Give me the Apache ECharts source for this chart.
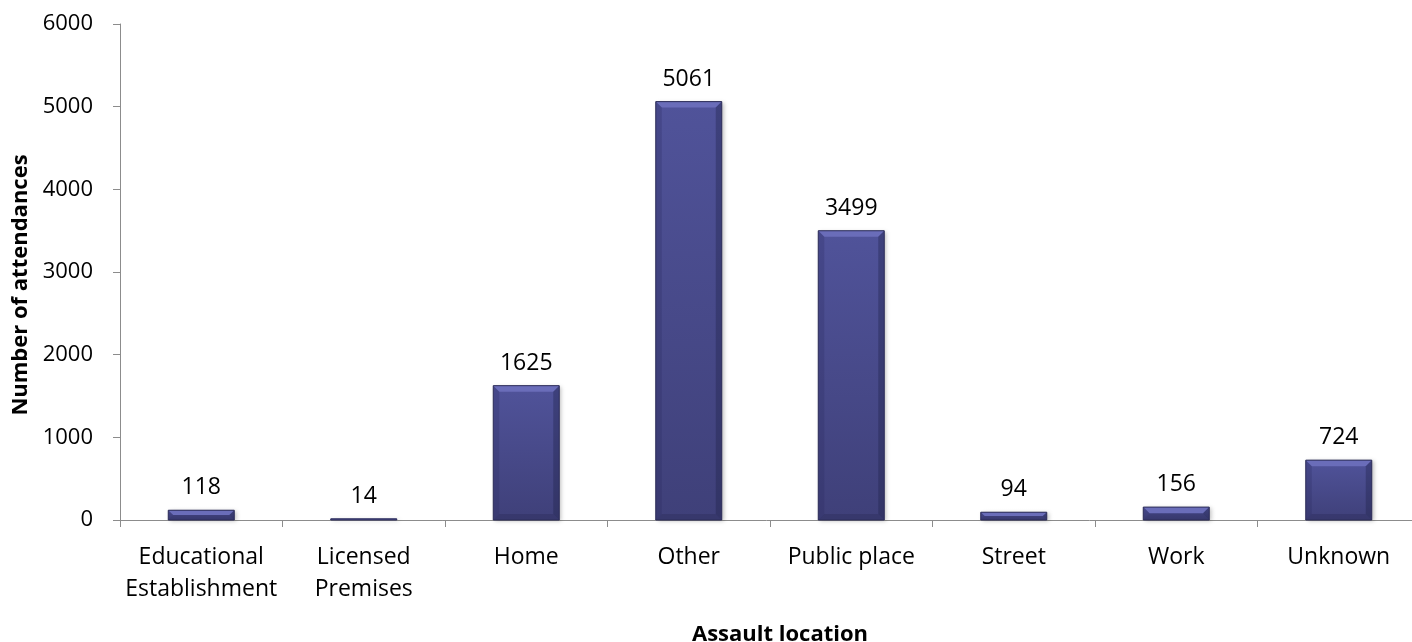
<!DOCTYPE html>
<html>
<head>
<meta charset="utf-8">
<script src="https://cdn.jsdelivr.net/npm/echarts@6/dist/echarts.min.js"></script>
<style>
  html, body { margin: 0; padding: 0; background: #ffffff; }
  #chart { width: 1412px; height: 642px; }
</style>
</head>
<body>
<div id="chart"></div>
<script>
// Assault attendances by location
const categories = [
  'Educational\nEstablishment',
  'Licensed\nPremises',
  'Home',
  'Other',
  'Public place',
  'Street',
  'Work',
  'Unknown'
];
const attendances = [118, 14, 1625, 5061, 3499, 94, 156, 724];
const yTicks = [0, 1000, 2000, 3000, 4000, 5000, 6000];

const FONT = '"Open Sans", "Liberation Sans", sans-serif';
const BAR_W = 66;
const BEVEL = 6;

const chart = echarts.init(document.getElementById('chart'), null, { renderer: 'canvas' });

// Bevelled bar: body plus four edge facets, value label above
function renderBevelBar(params, api) {
  const idx = api.value(0);
  const val = api.value(1);
  const top = api.coord([idx, val]);
  const base = api.coord([idx, 0]);
  const x0 = top[0] - BAR_W / 2;
  const x1 = top[0] + BAR_W / 2;
  const y0 = top[1];
  const y1 = base[1];
  const h = Math.max(y1 - y0, 1);
  const b = Math.min(BEVEL, h / 2);

  const body = new echarts.graphic.LinearGradient(0, 0, 0, 1, [
    { offset: 0, color: '#50539a' },
    { offset: 1, color: '#3f4079' }
  ]);
  const children = [
    {
      type: 'rect',
      shape: { x: x0, y: y0, width: BAR_W, height: h },
      style: {
        fill: body,
        shadowColor: 'rgba(0,0,0,0.25)',
        shadowBlur: 4,
        shadowOffsetX: 2,
        shadowOffsetY: 1
      }
    },
    { // top facet
      type: 'polygon',
      shape: { points: [[x0, y0], [x1, y0], [x1 - b, y0 + b], [x0 + b, y0 + b]] },
      style: { fill: '#6a6db9' }
    },
    { // left facet
      type: 'polygon',
      shape: { points: [[x0, y0], [x0 + b, y0 + b], [x0 + b, y1 - b], [x0, y1]] },
      style: { fill: 'rgba(40,41,90,0.25)' }
    },
    { // right facet
      type: 'polygon',
      shape: { points: [[x1, y0], [x1, y1], [x1 - b, y1 - b], [x1 - b, y0 + b]] },
      style: { fill: 'rgba(30,31,70,0.35)' }
    },
    { // bottom facet
      type: 'polygon',
      shape: { points: [[x0, y1], [x0 + b, y1 - b], [x1 - b, y1 - b], [x1, y1]] },
      style: { fill: 'rgba(30,31,70,0.25)' }
    },
    {
      type: 'rect',
      shape: { x: x0, y: y0, width: BAR_W, height: h },
      style: { fill: 'none', stroke: '#2c2d58', lineWidth: 1 }
    },
    {
      type: 'text',
      style: {
        text: String(val),
        x: top[0],
        y: y0 - 11,
        textAlign: 'center',
        textVerticalAlign: 'bottom',
        font: '23px ' + FONT,
        fill: '#000'
      }
    }
  ];
  return { type: 'group', children: children };
}

chart.setOption({
  animation: false,
  backgroundColor: '#ffffff',
  grid: {
    left: 120, top: 24, width: 1300, height: 496,
    containLabel: false, outerBoundsMode: 'none'
  },
  xAxis: {
    type: 'category',
    data: categories,
    name: 'Assault location',
    nameLocation: 'middle',
    nameGap: 104,
    nameTextStyle: {
      fontFamily: FONT, fontWeight: 'bold', fontSize: 22, color: '#000',
      padding: [0, 0, 0, 20]
    },
    axisLine: { lineStyle: { color: '#8c8c8c', width: 1 } },
    axisTick: { show: true, length: 7, lineStyle: { color: '#8c8c8c' } },
    axisLabel: {
      fontFamily: FONT, fontSize: 23, color: '#000',
      margin: 21, lineHeight: 32, interval: 0
    },
    splitLine: { show: false }
  },
  yAxis: {
    type: 'value',
    min: yTicks[0],
    max: yTicks[yTicks.length - 1],
    interval: 1000,
    name: 'Number of attendances',
    nameLocation: 'middle',
    nameGap: 82,
    nameRotate: 90,
    nameTextStyle: {
      fontFamily: FONT, fontWeight: 'bold', fontSize: 22, color: '#000',
      padding: [0, 26, 0, 0]
    },
    axisLine: { show: true, lineStyle: { color: '#8c8c8c', width: 1 } },
    axisTick: { show: true, length: 7, lineStyle: { color: '#8c8c8c' } },
    axisLabel: {
      fontFamily: FONT, fontSize: 22, color: '#000', margin: 27,
      formatter: v => String(v)
    },
    splitLine: { show: false }
  },
  series: [{
    type: 'custom',
    renderItem: renderBevelBar,
    data: attendances.map((v, i) => [i, v]),
    encode: { x: 0, y: 1 },
    clip: false
  }]
});
</script>
</body>
</html>
